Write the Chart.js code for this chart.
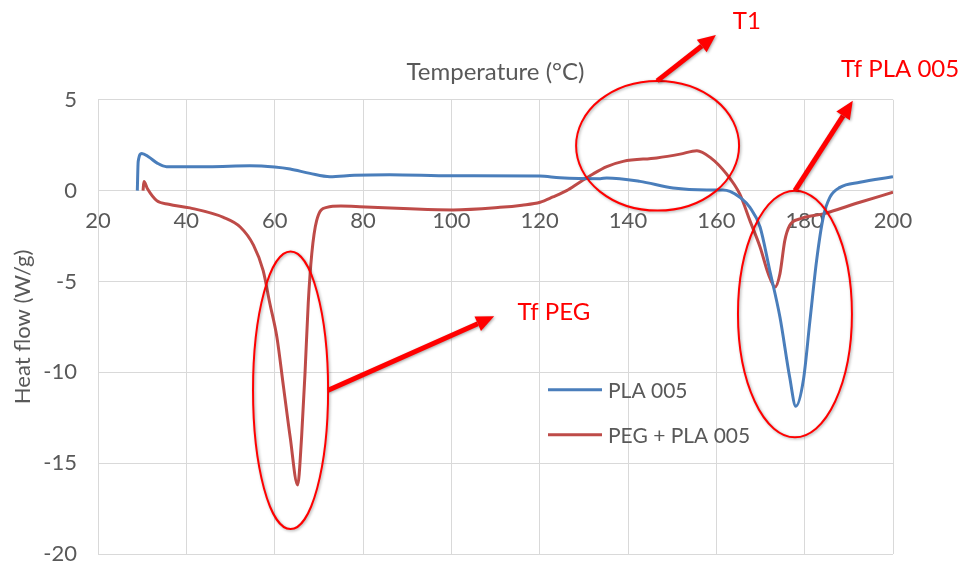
<!DOCTYPE html>
<html>
<head>
<meta charset="utf-8">
<script src="https://cdn.jsdelivr.net/npm/chart.js@4.4.0/dist/chart.umd.min.js"></script>
<style>
    html, body { margin: 0; padding: 0; background: #fff; }
</style>
</head>
<body>
<canvas id="dscChart" width="965" height="567"></canvas>
<script>
// DSC curves
var plaTemp = [28.9, 29.1, 29.9, 31.5, 33.5, 35.5, 45, 54.4, 60, 63.5, 68, 72.5, 78, 86, 100, 120, 124.6, 133.7, 135.2, 142.7, 150.2, 157.8, 161.5, 163.1, 165.5, 167.6, 169.9, 172.1, 174.4, 176.6, 178.0, 179.7, 181.2, 182.7, 184.2, 185.7, 188, 192.5, 200];
var plaFlow = [0, 1.6, 2.05, 1.85, 1.5, 1.32, 1.32, 1.37, 1.3, 1.19, 0.95, 0.77, 0.85, 0.88, 0.82, 0.8, 0.71, 0.66, 0.7, 0.51, 0.15, 0.04, 0.04, -0.04, -0.4, -0.92, -2.0, -4.4, -6.96, -10.26, -11.87, -10.44, -7.14, -3.85, -1.47, -0.37, 0.18, 0.46, 0.77];

var pegTemp = [30.2, 30.4, 31.2, 33.3, 36, 40.8, 48.4, 52.2, 55.2, 57.4, 58.9, 60.5, 62.0, 63.5, 65.2, 66.1, 66.9, 67.6, 68.4, 69.5, 71.8, 75, 79.3, 90.6, 100.4, 111, 116, 120.1, 123, 126.1, 129, 132.1, 135.2, 138.9, 146.5, 151.8, 155.6, 158.6, 162.3, 165.3, 167.6, 169.9, 171.8, 173.3, 174.4, 175.5, 176.6, 178.9, 184.2, 192.5, 200];
var pegFlow = [0, 0.5, 0.1, -0.55, -0.75, -0.95, -1.47, -2.0, -3.0, -4.4, -6.2, -8.06, -10.8, -13.55, -16.2, -13.55, -9.9, -6.2, -3.48, -1.65, -0.92, -0.85, -0.88, -1.0, -1.06, -0.92, -0.8, -0.64, -0.35, 0, 0.45, 0.92, 1.32, 1.61, 1.8, 2.01, 2.2, 1.83, 0.92, -0.18, -1.65, -3.1, -4.6, -5.3, -4.58, -2.75, -1.92, -1.56, -1.28, -0.64, -0.09];

var seriesNames = ['PLA 005', 'PEG + PLA 005'];
var xTicks = [20, 40, 60, 80, 100, 120, 140, 160, 180, 200];
var yTicks = [-20, -15, -10, -5, 0, 5];

// hand drawn marks, in data units
var ellipses = [
    { x: 146.7, y: 2.47, rx: 18.45, ry: 3.57 },
    { x: 177.8, y: -6.79, rx: 12.9, ry: 6.79 },
    { x: 63.6, y: -10.99, rx: 8.5, ry: 7.64 }
];
var arrows = [
    { x1: 146.6, y1: 6.04, x2: 159.9, y2: 8.57 },
    { x1: 177.8, y1: 0, x2: 190.9, y2: 4.95 },
    { x1: 72.1, y1: -10.99, x2: 109.7, y2: -6.92 }
];
var notes = [
    { text: 'T1', x: 166.9, y: 9.34 },
    { text: 'Tf PLA 005', x: 201.6, y: 6.7 },
    { text: 'Tf PEG', x: 123.2, y: -6.7 }
];

function toPoints(xs, ys) {
    return xs.map(function(x, i) { return { x: x, y: ys[i] }; });
}

var FONT = 'Lato, "Liberation Sans", sans-serif';
var GRAY = '#595959';
var RED = '#FF0000';

var markup = {
    id: 'markup',
    afterDatasetsDraw: function(chart) {
        var ctx = chart.ctx;
        var xs = chart.scales.x, ys = chart.scales.y;
        var area = chart.chartArea;

        // legend inside the plot
        ctx.save();
        ctx.font = '21px ' + FONT;
        ctx.textBaseline = 'middle';
        chart.data.datasets.forEach(function(ds, i) {
            var ly = area.top + 290 + i * 45;
            ctx.strokeStyle = ds.borderColor;
            ctx.lineWidth = 3;
            ctx.beginPath();
            ctx.moveTo(area.left + 450, ly);
            ctx.lineTo(area.left + 504, ly);
            ctx.stroke();
            ctx.fillStyle = GRAY;
            ctx.fillText(ds.label, area.left + 510, ly + 1);
        });
        ctx.restore();

        ctx.save();
        ctx.shadowColor = 'rgba(0,0,0,0.35)';
        ctx.shadowBlur = 3;
        ctx.shadowOffsetX = 1;
        ctx.shadowOffsetY = 1;
        ctx.strokeStyle = RED;
        ctx.fillStyle = RED;

        ellipses.forEach(function(e) {
            var cx = xs.getPixelForValue(e.x), cy = ys.getPixelForValue(e.y);
            var rx = Math.abs(xs.getPixelForValue(e.x + e.rx) - cx);
            var ry = Math.abs(ys.getPixelForValue(e.y + e.ry) - cy);
            ctx.lineWidth = 2;
            ctx.beginPath();
            ctx.ellipse(cx, cy, rx, ry, 0, 0, Math.PI * 2);
            ctx.stroke();
        });

        arrows.forEach(function(a) {
            var x1 = xs.getPixelForValue(a.x1), y1 = ys.getPixelForValue(a.y1);
            var x2 = xs.getPixelForValue(a.x2), y2 = ys.getPixelForValue(a.y2);
            var ang = Math.atan2(y2 - y1, x2 - x1);
            var head = 18, half = 8;
            var bx = x2 - head * Math.cos(ang), by = y2 - head * Math.sin(ang);
            ctx.lineWidth = 5;
            ctx.beginPath();
            ctx.moveTo(x1, y1);
            ctx.lineTo(bx, by);
            ctx.stroke();
            ctx.beginPath();
            ctx.moveTo(x2, y2);
            ctx.lineTo(bx + half * Math.sin(ang), by - half * Math.cos(ang));
            ctx.lineTo(bx - half * Math.sin(ang), by + half * Math.cos(ang));
            ctx.closePath();
            ctx.fill();
        });
        ctx.restore();

        ctx.save();
        ctx.fillStyle = RED;
        ctx.font = '24px ' + FONT;
        ctx.textAlign = 'center';
        ctx.textBaseline = 'middle';
        notes.forEach(function(n) {
            ctx.fillText(n.text, xs.getPixelForValue(n.x), ys.getPixelForValue(n.y));
        });
        ctx.restore();
    }
};

var ctx = document.getElementById('dscChart').getContext('2d');
var dscChart = new Chart(ctx, {
    type: 'line',
    data: {
        datasets: [{
            label: seriesNames[0],
            data: toPoints(plaTemp, plaFlow),
            borderColor: '#4A7EBB',
            borderWidth: 3,
            pointRadius: 0,
            cubicInterpolationMode: 'monotone'
        }, {
            label: seriesNames[1],
            data: toPoints(pegTemp, pegFlow),
            borderColor: '#BE4B48',
            borderWidth: 3,
            pointRadius: 0,
            cubicInterpolationMode: 'monotone'
        }]
    },
    options: {
        responsive: false,
        animation: false,
        layout: { padding: { left: 0, right: 72, top: 0, bottom: 13 } },
        plugins: {
            legend: { display: false },
            tooltip: { enabled: false },
            title: {
                display: true,
                text: 'Temperature (°C)',
                color: GRAY,
                fullSize: false,
                font: { family: FONT, size: 24, weight: 'normal' },
                padding: { top: 58, bottom: 13 }
            }
        },
        scales: {
            x: {
                type: 'linear',
                position: { y: 0 },
                min: 20,
                max: 200,
                afterBuildTicks: function(scale) {
                    scale.ticks = xTicks.map(function(v) { return { value: v }; });
                },
                afterFit: function(scale) { scale.height = 0; },
                grid: { color: '#D9D9D9', drawTicks: false },
                border: { color: '#D9D9D9' },
                ticks: {
                    color: GRAY,
                    padding: 17,
                    maxRotation: 0,
                    font: { family: FONT, size: 22 }
                }
            },
            y: {
                type: 'linear',
                min: -20,
                max: 5,
                afterBuildTicks: function(scale) {
                    scale.ticks = yTicks.map(function(v) { return { value: v }; });
                },
                afterFit: function(scale) {
                    scale.width = 98;
                    scale.paddingTop = 0;
                    scale.paddingBottom = 0;
                },
                grid: { color: '#D9D9D9', drawTicks: false },
                border: { color: '#D9D9D9' },
                title: {
                    display: true,
                    text: 'Heat flow (W/g)',
                    color: GRAY,
                    font: { family: FONT, size: 22 },
                    padding: { top: 10, bottom: 0 }
                },
                ticks: {
                    color: GRAY,
                    padding: 21,
                    font: { family: FONT, size: 22 }
                }
            }
        }
    },
    plugins: [markup]
});
</script>
</body>
</html>
